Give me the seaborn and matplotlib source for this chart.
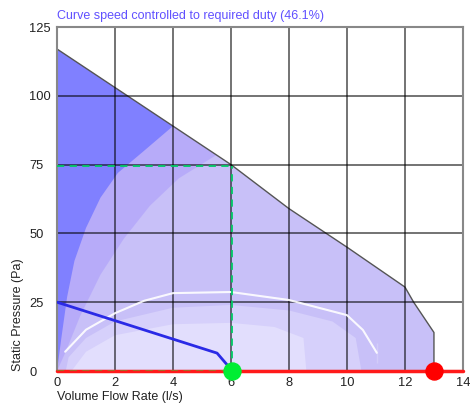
"""
Fan curve at controlled speed - duty point chart.
"""

import matplotlib
matplotlib.use("Agg")
import matplotlib.pyplot as plt
import seaborn as sns
import pandas as pd

# Fan envelope (max speed curve)
env_flow = [0, 6, 8, 10, 12, 12.3, 13, 13]
env_pressure = [117, 75, 59, 45, 30.5, 25, 14, 0]

# Efficiency bands inside the envelope
dark_flow = [0, 0, 4, 3, 2.1, 1.5, 1.0, 0.6, 0.35, 0.15]
dark_pressure = [0, 117, 89, 80, 72, 63, 52, 40, 27, 12]
mid_flow = [0, 0, 5.5, 4.2, 3.2, 2.3, 1.5, 0.8, 0.3]
mid_pressure = [0, 117, 78.5, 70, 60, 48, 35, 20, 7]
light1_flow = [0.3, 0.4, 1, 2, 4, 6, 8, 9.5, 10.3, 10.5]
light1_pressure = [0, 5, 12, 18, 23, 24, 22, 18, 12, 0]
light2_flow = [0.5, 1, 2, 4, 6, 7.5, 8.5, 8.6]
light2_pressure = [0, 7, 13, 17, 17.5, 16, 12, 0]

# White iso-line
iso_flow = [0.28, 1, 2, 3, 4, 6, 8, 10, 10.55, 11.03, 11.03]
iso_pressure = [7, 15, 21, 25.5, 28.3, 28.7, 25.8, 20.3, 14.9, 10.2, 3]

# System curve
sys_flow = [0, 5.52, 6.05]
sys_pressure = [25, 6.5, 0]

duty_flow = 6.05
duty_pressure = 74.6
max_flow = 13.0

x_ticks = [0, 2, 4, 6, 8, 10, 12, 14]
y_ticks = [0, 25, 50, 75, 100, 125]

sns.set_theme(style="white")
plt.rcParams['font.family'] = ['Liberation Sans', 'DejaVu Sans']

fig = plt.figure(figsize=(4.7, 4.03), dpi=100)
ax = fig.add_axes([0.1213, 0.0794, 0.8637, 0.8536])

# Filled envelope (closed through the origin) and bands
ax.fill([0] + env_flow, [0] + env_pressure, color='#c8c0f8', lw=0, zorder=1)
ax.fill(mid_flow, mid_pressure, color='#a898fb', lw=0, alpha=0.5, zorder=1.1)
ax.fill(dark_flow, dark_pressure, color='#8080ff', lw=0, zorder=1.2)
ax.fill(light1_flow, light1_pressure, color='#d6d0fb', lw=0, zorder=1.3)
ax.fill(light2_flow, light2_pressure, color='#e2defd', lw=0, zorder=1.4)
ax.plot(env_flow, env_pressure, color='#555555', lw=1, zorder=1.5)

# Grid
for x in x_ticks:
    ax.axvline(x, color='black', lw=1.4, alpha=0.55, zorder=2)
for y in y_ticks:
    ax.axhline(y, color='black', lw=1.4, alpha=0.55, zorder=2)

iso = pd.DataFrame({'flow': iso_flow, 'pressure': iso_pressure})
sns.lineplot(data=iso, x='flow', y='pressure', sort=False, color='white',
             lw=1.5, alpha=0.9, ax=ax, zorder=3)

system = pd.DataFrame({'flow': sys_flow, 'pressure': sys_pressure})
sns.lineplot(data=system, x='flow', y='pressure', sort=False, color='#2a2ae6',
             lw=2, ax=ax, zorder=4)

# Bottom red line and duty lines
ax.plot([0, 14], [0, 0], color='#ff1a1a', lw=2.5, zorder=4, clip_on=False)
ax.plot([0, duty_flow], [duty_pressure, duty_pressure], color='#00cc66',
        lw=1.3, ls=(0, (4, 3)), zorder=5)
ax.plot([duty_flow, duty_flow], [0, duty_pressure], color='#00cc66',
        lw=1.3, ls=(0, (4, 3)), zorder=5)
ax.plot([0, duty_flow], [0, 0], color='#33cc33', lw=1.3, ls=(0, (4, 3)),
        alpha=0.5, zorder=5)

ax.scatter([duty_flow], [0], s=150, color='#00ee33', zorder=6, clip_on=False)
ax.scatter([max_flow], [0], s=150, color='#ff0000', zorder=6, clip_on=False)

ax.set_xlim(0, 14)
ax.set_ylim(0, 125)
ax.set_xticks(x_ticks)
ax.set_yticks(y_ticks)
ax.tick_params(axis='both', length=0, labelsize=9.3, colors='#222222')
ax.tick_params(axis='y', pad=20)
ax.tick_params(axis='x', pad=4)
for lbl in ax.get_yticklabels():
    lbl.set_horizontalalignment('left')
for s in ax.spines.values():
    s.set_color('#888888')
    s.set_linewidth(1.5)

ax.set_xlabel('Volume Flow Rate (l/s)', fontsize=9, loc='left', labelpad=2,
              color='#222222')
ax.set_ylabel('Static Pressure (Pa)', fontsize=9, loc='bottom', labelpad=3.5,
              color='#222222')
ax.set_title('Curve speed controlled to required duty (46.1%)', fontsize=9,
             loc='left', color='#6050ff', pad=6)

fig.savefig('out.png', dpi=100)
